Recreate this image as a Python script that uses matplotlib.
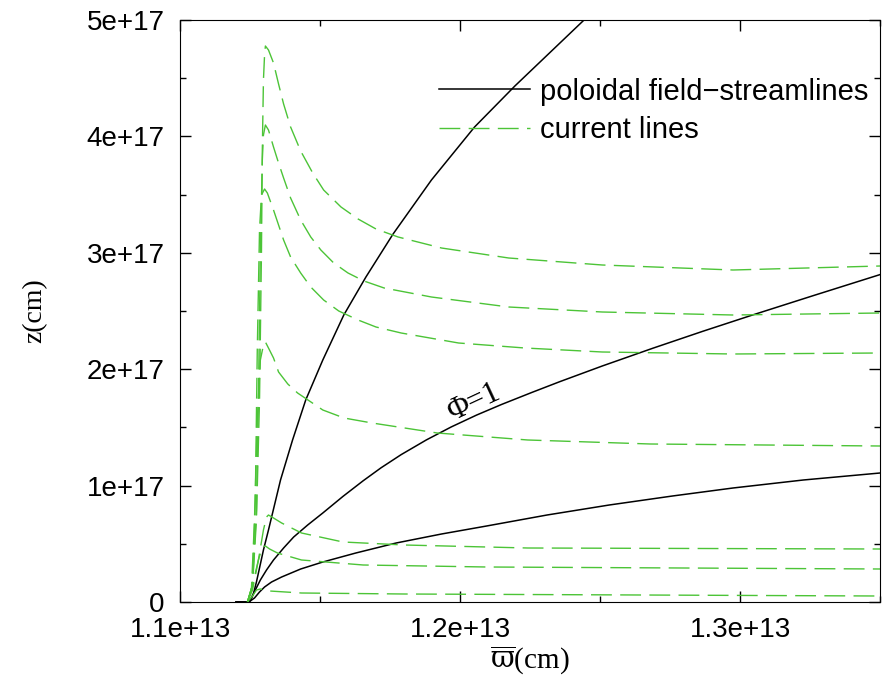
import matplotlib
matplotlib.use("Agg")
import matplotlib.pyplot as plt
import numpy as np
from matplotlib.ticker import FuncFormatter, MultipleLocator

# ---- data (x in units of 1e13 cm, z in units of 1e17 cm) ----
stream_a_x = [1.120, 1.1244, 1.1251, 1.1262, 1.1273, 1.1284, 1.1298, 1.1316, 1.1359, 1.1402, 1.1449,
              1.1510, 1.1585, 1.1664, 1.1761, 1.1898, 1.2052, 1.2196, 1.2443, 1.2475]
stream_a_z = [0.0, 0.0, 0.0086, 0.0687, 0.1718, 0.2921, 0.4467, 0.6186, 1.0481, 1.3918, 1.7354,
              2.079, 2.4656, 2.7921, 3.1615, 3.6254, 4.0808, 4.433, 5.0, 5.03]

stream_b_x = [1.120, 1.1244, 1.1251, 1.1269, 1.1287, 1.1309, 1.1334, 1.1370, 1.1406, 1.1456, 1.1510,
              1.1582, 1.1654, 1.1718, 1.1790, 1.1880, 1.1969, 1.2059, 1.2149, 1.2257, 1.2357,
              1.2508, 1.2688, 1.2867, 1.3047, 1.3262, 1.35]
stream_b_z = [0.0, 0.0, 0.0172, 0.1031, 0.189, 0.2749, 0.3608, 0.4639, 0.5584, 0.6615, 0.7646,
              0.9072, 1.0412, 1.1529, 1.2663, 1.3926, 1.5043, 1.6057, 1.6976, 1.8007, 1.8935,
              2.0275, 2.1796, 2.3256, 2.4674, 2.6323, 2.8127]

stream_c_x = [1.120, 1.1244, 1.1251, 1.1266, 1.1284, 1.1302, 1.1327, 1.1363, 1.1431, 1.1510, 1.1628,
              1.1772, 1.1934, 1.2095, 1.2311, 1.2533, 1.2759, 1.2975, 1.3226, 1.35]
stream_c_z = [0.0, 0.0, 0.0086, 0.0344, 0.0859, 0.1289, 0.1718, 0.2148, 0.2835, 0.3436, 0.421,
              0.5069, 0.5842, 0.6529, 0.7474, 0.8333, 0.9107, 0.9794, 1.0481, 1.1082]

cur1_x = [1.1241, 1.1259, 1.1273, 1.1284, 1.1291, 1.1294, 1.1298, 1.1302, 1.1305, 1.1316, 1.1334, 1.1352,
          1.1370, 1.1395, 1.1431, 1.1474, 1.1513, 1.1575, 1.1636, 1.1700, 1.1779, 1.1934, 1.2174, 1.2508,
          1.2975, 1.35]
cur1_z = [0.0, 0.146, 0.7045, 1.7354, 3.0241, 3.8832, 4.4845, 4.6993, 4.7766, 4.7423, 4.6306, 4.4502,
          4.2784, 4.0808, 3.8746, 3.6856, 3.5395, 3.3935, 3.2904, 3.2045, 3.1357, 3.0412, 2.9553, 2.8952,
          2.8522, 2.8866]

cur2_x = [1.1241, 1.1259, 1.1273, 1.1280, 1.1287, 1.1294, 1.1298, 1.1305, 1.1316, 1.1334, 1.1352, 1.1370,
          1.1395, 1.1431, 1.1467, 1.1503, 1.1549, 1.1600, 1.1657, 1.1729, 1.1898, 1.2174, 1.2508, 1.2975, 1.35]
cur2_z = [0.0, 0.146, 0.7904, 1.7354, 3.0241, 3.7973, 4.012, 4.0979, 4.055, 3.9089, 3.7715, 3.6426,
          3.4708, 3.2818, 3.1357, 3.0241, 2.9124, 2.8265, 2.7577, 2.6976, 2.6203, 2.5344, 2.4914, 2.4656, 2.4828]

cur3_x = [1.1241, 1.1259, 1.1269, 1.1276, 1.1284, 1.1291, 1.1302, 1.1312, 1.1334, 1.1370, 1.1395, 1.1431,
          1.1467, 1.1513, 1.1567, 1.1636, 1.1700, 1.1790, 1.1995, 1.2232, 1.2508, 1.2975, 1.35]
cur3_z = [0.0, 0.146, 0.8763, 2.1649, 3.1959, 3.4966, 3.5481, 3.5137, 3.3677, 3.11, 2.9639, 2.8265,
          2.7062, 2.5945, 2.5, 2.4227, 2.3625, 2.311, 2.2251, 2.1821, 2.1478, 2.1306, 2.1392]

cur4_x = [1.1241, 1.1255, 1.1266, 1.1276, 1.1287, 1.1298, 1.1305, 1.1316, 1.1334, 1.1352, 1.1385, 1.1420,
          1.1510, 1.1586, 1.1686, 1.1919, 1.2242, 1.2680, 1.35]
cur4_z = [0.0, 0.1031, 0.7045, 1.5636, 2.079, 2.2079, 2.2337, 2.1821, 2.0962, 1.976, 1.8729, 1.7955,
          1.6495, 1.5807, 1.5378, 1.4519, 1.3918, 1.3574, 1.3402]

cur5_x = [1.1241, 1.1259, 1.1280, 1.1298, 1.1309, 1.1316, 1.1334, 1.1363, 1.1434, 1.1582, 1.1801, 1.2242, 1.35]
cur5_z = [0.0, 0.1031, 0.3608, 0.6186, 0.7302, 0.7474, 0.7217, 0.6787, 0.5928, 0.5155, 0.4897, 0.4639, 0.4553]

cur6_x = [1.1241, 1.1259, 1.1280, 1.1294, 1.1305, 1.1320, 1.1348, 1.1434, 1.1654, 1.2095, 1.35]
cur6_z = [0.0, 0.146, 0.3608, 0.4725, 0.4811, 0.4553, 0.421, 0.3608, 0.3179, 0.3007, 0.2835]

cur7_x = [1.1241, 1.1259, 1.1273, 1.1287, 1.1320, 1.1434, 1.1801, 1.35]
cur7_z = [0.0, 0.0515, 0.1031, 0.1117, 0.0945, 0.0773, 0.0687, 0.0515]

x_ticks = [1.1e13, 1.2e13, 1.3e13]
y_ticks = [0, 1e17, 2e17, 3e17, 4e17, 5e17]
legend_labels = ["poloidal field\u2212streamlines", "current lines"]
phi_label = "\u03a6=1"

XS, ZS = 1e13, 1e17
GREEN = "#4cc437"
SERIF = ["Liberation Serif", "DejaVu Serif"]

plt.rcParams["mathtext.fontset"] = "custom"
plt.rcParams["mathtext.rm"] = "DejaVu Serif"
plt.rcParams["mathtext.it"] = "DejaVu Serif:italic"

fig = plt.figure(figsize=(8.92, 6.82), dpi=100)
ax = fig.add_axes([180/892, 1-602/682, 700/892, 582/682])

def sc(xs, zs):
    return np.array(xs) * XS, np.array(zs) * ZS

streams = [(stream_a_x, stream_a_z), (stream_b_x, stream_b_z), (stream_c_x, stream_c_z)]
currents = [(cur1_x, cur1_z), (cur2_x, cur2_z), (cur3_x, cur3_z), (cur4_x, cur4_z),
            (cur5_x, cur5_z), (cur6_x, cur6_z), (cur7_x, cur7_z)]

for i, (xs, zs) in enumerate(streams):
    X, Z = sc(xs, zs)
    ax.plot(X, Z, color="black", lw=1.1, label=legend_labels[0] if i == 0 else None)

for i, (xs, zs) in enumerate(currents):
    X, Z = sc(xs, zs)
    ax.plot(X, Z, color=GREEN, lw=1.0, dashes=(15, 6),
            label=legend_labels[1] if i == 0 else None)

ax.text(1.2050e13, 1.71e17, phi_label, rotation=25, ha="center", va="center",
        fontsize=22, family=SERIF)

ax.set_xlim(1.1e13, 1.35e13)
ax.set_ylim(0, 5e17)
ax.set_xticks(x_ticks)
ax.set_yticks(y_ticks)
ax.xaxis.set_minor_locator(MultipleLocator(0.05e13))
ax.yaxis.set_minor_locator(MultipleLocator(0.5e17))
fmt = FuncFormatter(lambda v, p: "%g" % v)
ax.xaxis.set_major_formatter(fmt)
ax.yaxis.set_major_formatter(fmt)
ax.tick_params(which="both", direction="in", top=True, right=True)
ax.tick_params(which="major", length=8, width=1)
ax.tick_params(which="minor", length=4, width=1)
ax.tick_params(axis="x", which="major", pad=11)
ax.tick_params(axis="y", which="major", pad=11)
for lab in ax.get_xticklabels() + ax.get_yticklabels():
    lab.set_fontsize(20)
    lab.set_family("Liberation Sans")

ax.set_xlabel(r"$\overline{\mathrm{\varpi}}$(cm)", fontsize=21, family=SERIF, labelpad=0)
ax.set_ylabel("z(cm)", fontsize=20, family=SERIF, labelpad=28)

leg = ax.legend(loc="upper right", bbox_to_anchor=(0.983, 0.901), frameon=False,
                prop={"family": "Liberation Sans", "size": 21},
                handlelength=3.1, handletextpad=0.35, labelspacing=0.36,
                borderpad=0, borderaxespad=0)

fig.savefig("out.png", dpi=100)
